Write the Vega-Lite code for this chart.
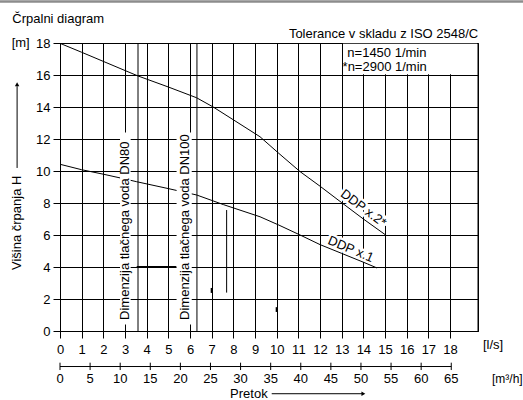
{
  "$schema": "https://vega.github.io/schema/vega-lite/v6.json",
  "width": 418,
  "height": 288,
  "autosize": {"type": "none"},
  "padding": {"left": 60, "top": 43, "right": 45, "bottom": 69},
  "background": "white",
  "config": {
    "font": "Liberation Sans",
    "view": {"stroke": "black", "strokeWidth": 1},
    "axis": {
      "labelFontSize": 13,
      "labelColor": "black",
      "tickColor": "black",
      "domainColor": "black",
      "gridColor": "black",
      "gridOpacity": 1
    }
  },
  "datasets": {
    "curves": [
      {"series": "x2", "q": 0, "h": 17.98},
      {"series": "x2", "q": 1, "h": 17.42},
      {"series": "x2", "q": 2, "h": 16.85},
      {"series": "x2", "q": 3, "h": 16.28},
      {"series": "x2", "q": 3.6, "h": 15.94},
      {"series": "x2", "q": 5, "h": 15.25},
      {"series": "x2", "q": 6.3, "h": 14.58},
      {"series": "x2", "q": 7.07, "h": 14.0},
      {"series": "x2", "q": 8, "h": 13.2},
      {"series": "x2", "q": 9.23, "h": 12.14},
      {"series": "x2", "q": 10.1, "h": 11.1},
      {"series": "x2", "q": 11.08, "h": 9.96},
      {"series": "x2", "q": 12, "h": 9.05},
      {"series": "x2", "q": 13, "h": 8.02},
      {"series": "x2", "q": 14, "h": 7.0},
      {"series": "x2", "q": 15.03, "h": 6.0},
      {"series": "x1", "q": 0, "h": 10.42},
      {"series": "x1", "q": 1, "h": 10.08},
      {"series": "x1", "q": 2, "h": 9.8},
      {"series": "x1", "q": 3, "h": 9.5},
      {"series": "x1", "q": 3.54, "h": 9.33},
      {"series": "x1", "q": 5, "h": 8.9},
      {"series": "x1", "q": 6.31, "h": 8.5},
      {"series": "x1", "q": 7.54, "h": 7.9},
      {"series": "x1", "q": 9.23, "h": 7.14},
      {"series": "x1", "q": 10.1, "h": 6.62},
      {"series": "x1", "q": 11.08, "h": 6.0},
      {"series": "x1", "q": 12, "h": 5.4},
      {"series": "x1", "q": 13, "h": 4.85},
      {"series": "x1", "q": 14, "h": 4.3},
      {"series": "x1", "q": 14.63, "h": 3.94}
    ],
    "dn": [{"q": 3.6}, {"q": 6.32}],
    "m3h": [
      {"m3": 0, "q": 0}, {"m3": 5, "q": 1.3889}, {"m3": 10, "q": 2.7778}, {"m3": 15, "q": 4.1667},
      {"m3": 20, "q": 5.5556}, {"m3": 25, "q": 6.9444}, {"m3": 30, "q": 8.3333}, {"m3": 35, "q": 9.7222},
      {"m3": 40, "q": 11.1111}, {"m3": 45, "q": 12.5}, {"m3": 50, "q": 13.8889}, {"m3": 55, "q": 15.2778},
      {"m3": 60, "q": 16.6667}, {"m3": 65, "q": 18.0556}
    ],
    "one": [{}]
  },
  "layer": [
    {
      "data": {"name": "one"},
      "mark": {"type": "rect", "color": "white", "opacity": 1},
      "encoding": {
        "x": {"datum": 13.06, "type": "quantitative", "scale": {"domain": [0, 19.29], "nice": false, "zero": false}, "axis": {"title": null, "values": [0, 1, 2, 3, 4, 5, 6, 7, 8, 9, 10, 11, 12, 13, 14, 15, 16, 17, 18], "grid": true, "tickSize": 7, "labelPadding": 5, "labelFlush": false, "labelOverlap": false}},
        "x2": {"datum": 19.25},
        "y": {"datum": 16.04, "type": "quantitative", "scale": {"domain": [0, 18], "nice": false, "zero": false}, "axis": {"title": null, "values": [0, 2, 4, 6, 8, 10, 12, 14, 16, 18], "grid": true, "tickSize": 7, "labelPadding": 3, "labelFlush": false, "labelOverlap": false}},
        "y2": {"datum": 17.96}
      }
    },
    {
      "data": {"name": "one"},
      "mark": {"type": "text", "text": "DDP x.2*", "angle": 37, "align": "center", "baseline": "middle", "fontSize": 13, "stroke": "white", "strokeWidth": 5, "color": "white"},
      "encoding": {
        "x": {"datum": 14.0, "type": "quantitative", "axis": {"title": null, "values": [0, 1, 2, 3, 4, 5, 6, 7, 8, 9, 10, 11, 12, 13, 14, 15, 16, 17, 18], "grid": true, "tickSize": 7, "labelPadding": 5, "labelFlush": false, "labelOverlap": false}},
        "y": {"datum": 7.67, "type": "quantitative", "axis": {"title": null, "values": [0, 2, 4, 6, 8, 10, 12, 14, 16, 18], "grid": true, "tickSize": 7, "labelPadding": 3, "labelFlush": false, "labelOverlap": false}}
      }
    },
    {
      "data": {"name": "one"},
      "mark": {"type": "text", "text": "DDP x.1", "angle": 23, "align": "center", "baseline": "middle", "fontSize": 13, "stroke": "white", "strokeWidth": 5, "color": "white"},
      "encoding": {
        "x": {"datum": 13.42, "type": "quantitative", "axis": {"title": null, "values": [0, 1, 2, 3, 4, 5, 6, 7, 8, 9, 10, 11, 12, 13, 14, 15, 16, 17, 18], "grid": true, "tickSize": 7, "labelPadding": 5, "labelFlush": false, "labelOverlap": false}},
        "y": {"datum": 5.11, "type": "quantitative", "axis": {"title": null, "values": [0, 2, 4, 6, 8, 10, 12, 14, 16, 18], "grid": true, "tickSize": 7, "labelPadding": 3, "labelFlush": false, "labelOverlap": false}}
      }
    },
    {
      "data": {"name": "dn"},
      "mark": {"type": "rule", "color": "black", "strokeWidth": 1},
      "encoding": {
        "x": {"field": "q", "type": "quantitative", "axis": {"title": null, "values": [0, 1, 2, 3, 4, 5, 6, 7, 8, 9, 10, 11, 12, 13, 14, 15, 16, 17, 18], "grid": true, "tickSize": 7, "labelPadding": 5, "labelFlush": false, "labelOverlap": false}},
        "y": {"datum": 0, "type": "quantitative", "axis": {"title": null, "values": [0, 2, 4, 6, 8, 10, 12, 14, 16, 18], "grid": true, "tickSize": 7, "labelPadding": 3, "labelFlush": false, "labelOverlap": false}},
        "y2": {"datum": 18}
      }
    },
    {
      "data": {"name": "one"},
      "mark": {"type": "rule", "color": "black", "strokeWidth": 2},
      "encoding": {
        "x": {"datum": 3.54, "type": "quantitative", "axis": {"title": null, "values": [0, 1, 2, 3, 4, 5, 6, 7, 8, 9, 10, 11, 12, 13, 14, 15, 16, 17, 18], "grid": true, "tickSize": 7, "labelPadding": 5, "labelFlush": false, "labelOverlap": false}},
        "x2": {"datum": 5.38},
        "y": {"datum": 4, "type": "quantitative", "axis": {"title": null, "values": [0, 2, 4, 6, 8, 10, 12, 14, 16, 18], "grid": true, "tickSize": 7, "labelPadding": 3, "labelFlush": false, "labelOverlap": false}}
      }
    },
    {
      "data": {"name": "one"},
      "mark": {"type": "rule", "color": "black", "strokeWidth": 1},
      "encoding": {
        "x": {"datum": 7.69, "type": "quantitative", "axis": {"title": null, "values": [0, 1, 2, 3, 4, 5, 6, 7, 8, 9, 10, 11, 12, 13, 14, 15, 16, 17, 18], "grid": true, "tickSize": 7, "labelPadding": 5, "labelFlush": false, "labelOverlap": false}},
        "y": {"datum": 2.4, "type": "quantitative", "axis": {"title": null, "values": [0, 2, 4, 6, 8, 10, 12, 14, 16, 18], "grid": true, "tickSize": 7, "labelPadding": 3, "labelFlush": false, "labelOverlap": false}},
        "y2": {"datum": 7.56}
      }
    },
    {
      "data": {"name": "one"},
      "mark": {"type": "rule", "color": "black", "strokeWidth": 2},
      "encoding": {
        "x": {"datum": 7.0, "type": "quantitative", "axis": {"title": null, "values": [0, 1, 2, 3, 4, 5, 6, 7, 8, 9, 10, 11, 12, 13, 14, 15, 16, 17, 18], "grid": true, "tickSize": 7, "labelPadding": 5, "labelFlush": false, "labelOverlap": false}},
        "y": {"datum": 2.38, "type": "quantitative", "axis": {"title": null, "values": [0, 2, 4, 6, 8, 10, 12, 14, 16, 18], "grid": true, "tickSize": 7, "labelPadding": 3, "labelFlush": false, "labelOverlap": false}},
        "y2": {"datum": 2.69}
      }
    },
    {
      "data": {"name": "one"},
      "mark": {"type": "rule", "color": "black", "strokeWidth": 2},
      "encoding": {
        "x": {"datum": 10.0, "type": "quantitative", "axis": {"title": null, "values": [0, 1, 2, 3, 4, 5, 6, 7, 8, 9, 10, 11, 12, 13, 14, 15, 16, 17, 18], "grid": true, "tickSize": 7, "labelPadding": 5, "labelFlush": false, "labelOverlap": false}},
        "y": {"datum": 1.19, "type": "quantitative", "axis": {"title": null, "values": [0, 2, 4, 6, 8, 10, 12, 14, 16, 18], "grid": true, "tickSize": 7, "labelPadding": 3, "labelFlush": false, "labelOverlap": false}},
        "y2": {"datum": 1.49}
      }
    },
    {
      "data": {"name": "curves"},
      "mark": {"type": "line", "color": "black", "strokeWidth": 1},
      "encoding": {
        "x": {"field": "q", "type": "quantitative", "axis": {"title": null, "values": [0, 1, 2, 3, 4, 5, 6, 7, 8, 9, 10, 11, 12, 13, 14, 15, 16, 17, 18], "grid": true, "tickSize": 7, "labelPadding": 5, "labelFlush": false, "labelOverlap": false}},
        "y": {"field": "h", "type": "quantitative", "axis": {"title": null, "values": [0, 2, 4, 6, 8, 10, 12, 14, 16, 18], "grid": true, "tickSize": 7, "labelPadding": 3, "labelFlush": false, "labelOverlap": false}},
        "detail": {"field": "series"}
      }
    },
    {
      "data": {"name": "one"},
      "mark": {"type": "rect", "color": "white", "opacity": 1},
      "encoding": {
        "x": {"datum": 2.77, "type": "quantitative", "axis": {"title": null, "values": [0, 1, 2, 3, 4, 5, 6, 7, 8, 9, 10, 11, 12, 13, 14, 15, 16, 17, 18], "grid": true, "tickSize": 7, "labelPadding": 5, "labelFlush": false, "labelOverlap": false}},
        "x2": {"datum": 3.26},
        "y": {"datum": 0.4, "type": "quantitative", "axis": {"title": null, "values": [0, 2, 4, 6, 8, 10, 12, 14, 16, 18], "grid": true, "tickSize": 7, "labelPadding": 3, "labelFlush": false, "labelOverlap": false}},
        "y2": {"datum": 12.4}
      }
    },
    {
      "data": {"name": "one"},
      "mark": {"type": "rect", "color": "white", "opacity": 1},
      "encoding": {
        "x": {"datum": 5.38, "type": "quantitative", "axis": {"title": null, "values": [0, 1, 2, 3, 4, 5, 6, 7, 8, 9, 10, 11, 12, 13, 14, 15, 16, 17, 18], "grid": true, "tickSize": 7, "labelPadding": 5, "labelFlush": false, "labelOverlap": false}},
        "x2": {"datum": 6.08},
        "y": {"datum": 0.4, "type": "quantitative", "axis": {"title": null, "values": [0, 2, 4, 6, 8, 10, 12, 14, 16, 18], "grid": true, "tickSize": 7, "labelPadding": 3, "labelFlush": false, "labelOverlap": false}},
        "y2": {"datum": 12.4}
      }
    },
    {
      "data": {"name": "one"},
      "mark": {"type": "text", "text": "Dimenzija tlačnega voda DN80", "angle": 270, "align": "left", "baseline": "middle", "fontSize": 13, "color": "black"},
      "encoding": {
        "x": {"datum": 3.01, "type": "quantitative", "axis": {"title": null, "values": [0, 1, 2, 3, 4, 5, 6, 7, 8, 9, 10, 11, 12, 13, 14, 15, 16, 17, 18], "grid": true, "tickSize": 7, "labelPadding": 5, "labelFlush": false, "labelOverlap": false}},
        "y": {"datum": 0.69, "type": "quantitative", "axis": {"title": null, "values": [0, 2, 4, 6, 8, 10, 12, 14, 16, 18], "grid": true, "tickSize": 7, "labelPadding": 3, "labelFlush": false, "labelOverlap": false}}
      }
    },
    {
      "data": {"name": "one"},
      "mark": {"type": "text", "text": "Dimenzija tlačnega voda DN100", "angle": 270, "align": "left", "baseline": "middle", "fontSize": 13, "color": "black"},
      "encoding": {
        "x": {"datum": 5.75, "type": "quantitative", "axis": {"title": null, "values": [0, 1, 2, 3, 4, 5, 6, 7, 8, 9, 10, 11, 12, 13, 14, 15, 16, 17, 18], "grid": true, "tickSize": 7, "labelPadding": 5, "labelFlush": false, "labelOverlap": false}},
        "y": {"datum": 0.69, "type": "quantitative", "axis": {"title": null, "values": [0, 2, 4, 6, 8, 10, 12, 14, 16, 18], "grid": true, "tickSize": 7, "labelPadding": 3, "labelFlush": false, "labelOverlap": false}}
      }
    },
    {
      "data": {"name": "one"},
      "mark": {"type": "text", "text": "DDP x.2*", "angle": 37, "align": "center", "baseline": "middle", "fontSize": 13, "color": "black"},
      "encoding": {
        "x": {"datum": 14.0, "type": "quantitative", "axis": {"title": null, "values": [0, 1, 2, 3, 4, 5, 6, 7, 8, 9, 10, 11, 12, 13, 14, 15, 16, 17, 18], "grid": true, "tickSize": 7, "labelPadding": 5, "labelFlush": false, "labelOverlap": false}},
        "y": {"datum": 7.67, "type": "quantitative", "axis": {"title": null, "values": [0, 2, 4, 6, 8, 10, 12, 14, 16, 18], "grid": true, "tickSize": 7, "labelPadding": 3, "labelFlush": false, "labelOverlap": false}}
      }
    },
    {
      "data": {"name": "one"},
      "mark": {"type": "text", "text": "DDP x.1", "angle": 23, "align": "center", "baseline": "middle", "fontSize": 13, "color": "black"},
      "encoding": {
        "x": {"datum": 13.42, "type": "quantitative", "axis": {"title": null, "values": [0, 1, 2, 3, 4, 5, 6, 7, 8, 9, 10, 11, 12, 13, 14, 15, 16, 17, 18], "grid": true, "tickSize": 7, "labelPadding": 5, "labelFlush": false, "labelOverlap": false}},
        "y": {"datum": 5.11, "type": "quantitative", "axis": {"title": null, "values": [0, 2, 4, 6, 8, 10, 12, 14, 16, 18], "grid": true, "tickSize": 7, "labelPadding": 3, "labelFlush": false, "labelOverlap": false}}
      }
    },
    {
      "data": {"name": "one"},
      "mark": {"type": "text", "text": "n=1450 1/min", "align": "left", "baseline": "middle", "fontSize": 13, "color": "black"},
      "encoding": {
        "x": {"datum": 13.26, "type": "quantitative", "axis": {"title": null, "values": [0, 1, 2, 3, 4, 5, 6, 7, 8, 9, 10, 11, 12, 13, 14, 15, 16, 17, 18], "grid": true, "tickSize": 7, "labelPadding": 5, "labelFlush": false, "labelOverlap": false}},
        "y": {"datum": 17.37, "type": "quantitative", "axis": {"title": null, "values": [0, 2, 4, 6, 8, 10, 12, 14, 16, 18], "grid": true, "tickSize": 7, "labelPadding": 3, "labelFlush": false, "labelOverlap": false}}
      }
    },
    {
      "data": {"name": "one"},
      "mark": {"type": "text", "text": "*n=2900 1/min", "align": "left", "baseline": "middle", "fontSize": 13, "color": "black"},
      "encoding": {
        "x": {"datum": 13.04, "type": "quantitative", "axis": {"title": null, "values": [0, 1, 2, 3, 4, 5, 6, 7, 8, 9, 10, 11, 12, 13, 14, 15, 16, 17, 18], "grid": true, "tickSize": 7, "labelPadding": 5, "labelFlush": false, "labelOverlap": false}},
        "y": {"datum": 16.5, "type": "quantitative", "axis": {"title": null, "values": [0, 2, 4, 6, 8, 10, 12, 14, 16, 18], "grid": true, "tickSize": 7, "labelPadding": 3, "labelFlush": false, "labelOverlap": false}}
      }
    },
    {
      "data": {"name": "one"},
      "mark": {"type": "text", "text": "Črpalni diagram", "align": "left", "baseline": "alphabetic", "fontSize": 13, "color": "black"},
      "encoding": {
        "x": {"datum": -2.2, "type": "quantitative", "axis": {"title": null, "values": [0, 1, 2, 3, 4, 5, 6, 7, 8, 9, 10, 11, 12, 13, 14, 15, 16, 17, 18], "grid": true, "tickSize": 7, "labelPadding": 5, "labelFlush": false, "labelOverlap": false}},
        "y": {"datum": 19.23, "type": "quantitative", "axis": {"title": null, "values": [0, 2, 4, 6, 8, 10, 12, 14, 16, 18], "grid": true, "tickSize": 7, "labelPadding": 3, "labelFlush": false, "labelOverlap": false}}
      }
    },
    {
      "data": {"name": "one"},
      "mark": {"type": "text", "text": "Tolerance v skladu z ISO 2548/C", "align": "right", "baseline": "alphabetic", "fontSize": 13, "color": "black"},
      "encoding": {
        "x": {"datum": 19.3, "type": "quantitative", "axis": {"title": null, "values": [0, 1, 2, 3, 4, 5, 6, 7, 8, 9, 10, 11, 12, 13, 14, 15, 16, 17, 18], "grid": true, "tickSize": 7, "labelPadding": 5, "labelFlush": false, "labelOverlap": false}},
        "y": {"datum": 18.29, "type": "quantitative", "axis": {"title": null, "values": [0, 2, 4, 6, 8, 10, 12, 14, 16, 18], "grid": true, "tickSize": 7, "labelPadding": 3, "labelFlush": false, "labelOverlap": false}}
      }
    },
    {
      "data": {"name": "one"},
      "mark": {"type": "text", "text": "[m]", "align": "left", "baseline": "middle", "fontSize": 13, "color": "black"},
      "encoding": {
        "x": {"datum": -2.23, "type": "quantitative", "axis": {"title": null, "values": [0, 1, 2, 3, 4, 5, 6, 7, 8, 9, 10, 11, 12, 13, 14, 15, 16, 17, 18], "grid": true, "tickSize": 7, "labelPadding": 5, "labelFlush": false, "labelOverlap": false}},
        "y": {"datum": 18, "type": "quantitative", "axis": {"title": null, "values": [0, 2, 4, 6, 8, 10, 12, 14, 16, 18], "grid": true, "tickSize": 7, "labelPadding": 3, "labelFlush": false, "labelOverlap": false}}
      }
    },
    {
      "data": {"name": "one"},
      "mark": {"type": "text", "text": "Višina črpanja H", "angle": 270, "align": "left", "baseline": "middle", "fontSize": 13, "color": "black"},
      "encoding": {
        "x": {"datum": -1.98, "type": "quantitative", "axis": {"title": null, "values": [0, 1, 2, 3, 4, 5, 6, 7, 8, 9, 10, 11, 12, 13, 14, 15, 16, 17, 18], "grid": true, "tickSize": 7, "labelPadding": 5, "labelFlush": false, "labelOverlap": false}},
        "y": {"datum": 3.81, "type": "quantitative", "axis": {"title": null, "values": [0, 2, 4, 6, 8, 10, 12, 14, 16, 18], "grid": true, "tickSize": 7, "labelPadding": 3, "labelFlush": false, "labelOverlap": false}}
      }
    },
    {
      "data": {"name": "one"},
      "mark": {"type": "rule", "color": "black", "strokeWidth": 1},
      "encoding": {
        "x": {"datum": -1.98, "type": "quantitative", "axis": {"title": null, "values": [0, 1, 2, 3, 4, 5, 6, 7, 8, 9, 10, 11, 12, 13, 14, 15, 16, 17, 18], "grid": true, "tickSize": 7, "labelPadding": 5, "labelFlush": false, "labelOverlap": false}},
        "y": {"datum": 10.19, "type": "quantitative", "axis": {"title": null, "values": [0, 2, 4, 6, 8, 10, 12, 14, 16, 18], "grid": true, "tickSize": 7, "labelPadding": 3, "labelFlush": false, "labelOverlap": false}},
        "y2": {"datum": 15.3}
      }
    },
    {
      "data": {"name": "one"},
      "mark": {"type": "point", "shape": "triangle-up", "size": 20, "filled": true, "color": "black", "opacity": 1, "strokeWidth": 0},
      "encoding": {
        "x": {"datum": -1.98, "type": "quantitative", "axis": {"title": null, "values": [0, 1, 2, 3, 4, 5, 6, 7, 8, 9, 10, 11, 12, 13, 14, 15, 16, 17, 18], "grid": true, "tickSize": 7, "labelPadding": 5, "labelFlush": false, "labelOverlap": false}},
        "y": {"datum": 15.42, "type": "quantitative", "axis": {"title": null, "values": [0, 2, 4, 6, 8, 10, 12, 14, 16, 18], "grid": true, "tickSize": 7, "labelPadding": 3, "labelFlush": false, "labelOverlap": false}}
      }
    },
    {
      "data": {"name": "one"},
      "mark": {"type": "text", "text": "Pretok", "align": "left", "baseline": "middle", "fontSize": 13, "color": "black"},
      "encoding": {
        "x": {"datum": 7.85, "type": "quantitative", "axis": {"title": null, "values": [0, 1, 2, 3, 4, 5, 6, 7, 8, 9, 10, 11, 12, 13, 14, 15, 16, 17, 18], "grid": true, "tickSize": 7, "labelPadding": 5, "labelFlush": false, "labelOverlap": false}},
        "y": {"datum": -3.92, "type": "quantitative", "axis": {"title": null, "values": [0, 2, 4, 6, 8, 10, 12, 14, 16, 18], "grid": true, "tickSize": 7, "labelPadding": 3, "labelFlush": false, "labelOverlap": false}}
      }
    },
    {
      "data": {"name": "one"},
      "mark": {"type": "rule", "color": "black", "strokeWidth": 1},
      "encoding": {
        "x": {"datum": 9.77, "type": "quantitative", "axis": {"title": null, "values": [0, 1, 2, 3, 4, 5, 6, 7, 8, 9, 10, 11, 12, 13, 14, 15, 16, 17, 18], "grid": true, "tickSize": 7, "labelPadding": 5, "labelFlush": false, "labelOverlap": false}},
        "x2": {"datum": 14.0},
        "y": {"datum": -3.92, "type": "quantitative", "axis": {"title": null, "values": [0, 2, 4, 6, 8, 10, 12, 14, 16, 18], "grid": true, "tickSize": 7, "labelPadding": 3, "labelFlush": false, "labelOverlap": false}}
      }
    },
    {
      "data": {"name": "one"},
      "mark": {"type": "point", "shape": "triangle-right", "size": 20, "filled": true, "color": "black", "opacity": 1, "strokeWidth": 0},
      "encoding": {
        "x": {"datum": 14.0, "type": "quantitative", "axis": {"title": null, "values": [0, 1, 2, 3, 4, 5, 6, 7, 8, 9, 10, 11, 12, 13, 14, 15, 16, 17, 18], "grid": true, "tickSize": 7, "labelPadding": 5, "labelFlush": false, "labelOverlap": false}},
        "y": {"datum": -3.92, "type": "quantitative", "axis": {"title": null, "values": [0, 2, 4, 6, 8, 10, 12, 14, 16, 18], "grid": true, "tickSize": 7, "labelPadding": 3, "labelFlush": false, "labelOverlap": false}}
      }
    },
    {
      "data": {"name": "one"},
      "mark": {"type": "text", "text": "[l/s]", "align": "left", "baseline": "middle", "fontSize": 13, "color": "black"},
      "encoding": {
        "x": {"datum": 19.52, "type": "quantitative", "axis": {"title": null, "values": [0, 1, 2, 3, 4, 5, 6, 7, 8, 9, 10, 11, 12, 13, 14, 15, 16, 17, 18], "grid": true, "tickSize": 7, "labelPadding": 5, "labelFlush": false, "labelOverlap": false}},
        "y": {"datum": -0.875, "type": "quantitative", "axis": {"title": null, "values": [0, 2, 4, 6, 8, 10, 12, 14, 16, 18], "grid": true, "tickSize": 7, "labelPadding": 3, "labelFlush": false, "labelOverlap": false}}
      }
    },
    {
      "data": {"name": "one"},
      "mark": {"type": "text", "text": "[m³/h]", "align": "right", "baseline": "middle", "fontSize": 12, "color": "black"},
      "encoding": {
        "x": {"datum": 21.35, "type": "quantitative", "axis": {"title": null, "values": [0, 1, 2, 3, 4, 5, 6, 7, 8, 9, 10, 11, 12, 13, 14, 15, 16, 17, 18], "grid": true, "tickSize": 7, "labelPadding": 5, "labelFlush": false, "labelOverlap": false}},
        "y": {"datum": -3.0, "type": "quantitative", "axis": {"title": null, "values": [0, 2, 4, 6, 8, 10, 12, 14, 16, 18], "grid": true, "tickSize": 7, "labelPadding": 3, "labelFlush": false, "labelOverlap": false}}
      }
    },
    {
      "data": {"name": "m3h"},
      "mark": {"type": "rule", "color": "black", "strokeWidth": 1},
      "encoding": {
        "x": {"field": "q", "type": "quantitative", "axis": {"title": null, "values": [0, 1, 2, 3, 4, 5, 6, 7, 8, 9, 10, 11, 12, 13, 14, 15, 16, 17, 18], "grid": true, "tickSize": 7, "labelPadding": 5, "labelFlush": false, "labelOverlap": false}},
        "y": {"datum": -1.98, "type": "quantitative", "axis": {"title": null, "values": [0, 2, 4, 6, 8, 10, 12, 14, 16, 18], "grid": true, "tickSize": 7, "labelPadding": 3, "labelFlush": false, "labelOverlap": false}},
        "y2": {"datum": -2.44}
      }
    },
    {
      "data": {"name": "m3h"},
      "mark": {"type": "text", "align": "center", "baseline": "middle", "fontSize": 13, "color": "black"},
      "encoding": {
        "x": {"field": "q", "type": "quantitative", "axis": {"title": null, "values": [0, 1, 2, 3, 4, 5, 6, 7, 8, 9, 10, 11, 12, 13, 14, 15, 16, 17, 18], "grid": true, "tickSize": 7, "labelPadding": 5, "labelFlush": false, "labelOverlap": false}},
        "y": {"datum": -2.99, "type": "quantitative", "axis": {"title": null, "values": [0, 2, 4, 6, 8, 10, 12, 14, 16, 18], "grid": true, "tickSize": 7, "labelPadding": 3, "labelFlush": false, "labelOverlap": false}},
        "text": {"field": "m3", "type": "quantitative"}
      }
    },
    {
      "data": {"name": "one"},
      "mark": {"type": "rule", "color": "black", "strokeWidth": 1},
      "encoding": {
        "x": {"datum": 0, "type": "quantitative", "axis": {"title": null, "values": [0, 1, 2, 3, 4, 5, 6, 7, 8, 9, 10, 11, 12, 13, 14, 15, 16, 17, 18], "grid": true, "tickSize": 7, "labelPadding": 5, "labelFlush": false, "labelOverlap": false}},
        "x2": {"datum": 18.0556},
        "y": {"datum": -2.22, "type": "quantitative", "axis": {"title": null, "values": [0, 2, 4, 6, 8, 10, 12, 14, 16, 18], "grid": true, "tickSize": 7, "labelPadding": 3, "labelFlush": false, "labelOverlap": false}}
      }
    },
    {
      "data": {"name": "one"},
      "mark": {"type": "rule", "color": "black", "strokeWidth": 1},
      "encoding": {
        "x": {"datum": 19.29, "type": "quantitative", "axis": {"title": null, "values": [0, 1, 2, 3, 4, 5, 6, 7, 8, 9, 10, 11, 12, 13, 14, 15, 16, 17, 18], "grid": true, "tickSize": 7, "labelPadding": 5, "labelFlush": false, "labelOverlap": false}},
        "y": {"datum": 0, "type": "quantitative", "axis": {"title": null, "values": [0, 2, 4, 6, 8, 10, 12, 14, 16, 18], "grid": true, "tickSize": 7, "labelPadding": 3, "labelFlush": false, "labelOverlap": false}},
        "y2": {"datum": 18}
      }
    },
    {
      "data": {"name": "one"},
      "mark": {"type": "rule", "color": "#8c8c8c", "strokeWidth": 2.5},
      "encoding": {
        "x": {"datum": -2.8, "type": "quantitative", "axis": {"title": null, "values": [0, 1, 2, 3, 4, 5, 6, 7, 8, 9, 10, 11, 12, 13, 14, 15, 16, 17, 18], "grid": true, "tickSize": 7, "labelPadding": 5, "labelFlush": false, "labelOverlap": false}},
        "x2": {"datum": 21.4},
        "y": {"datum": 20.6, "type": "quantitative", "axis": {"title": null, "values": [0, 2, 4, 6, 8, 10, 12, 14, 16, 18], "grid": true, "tickSize": 7, "labelPadding": 3, "labelFlush": false, "labelOverlap": false}}
      }
    }
  ]
}
